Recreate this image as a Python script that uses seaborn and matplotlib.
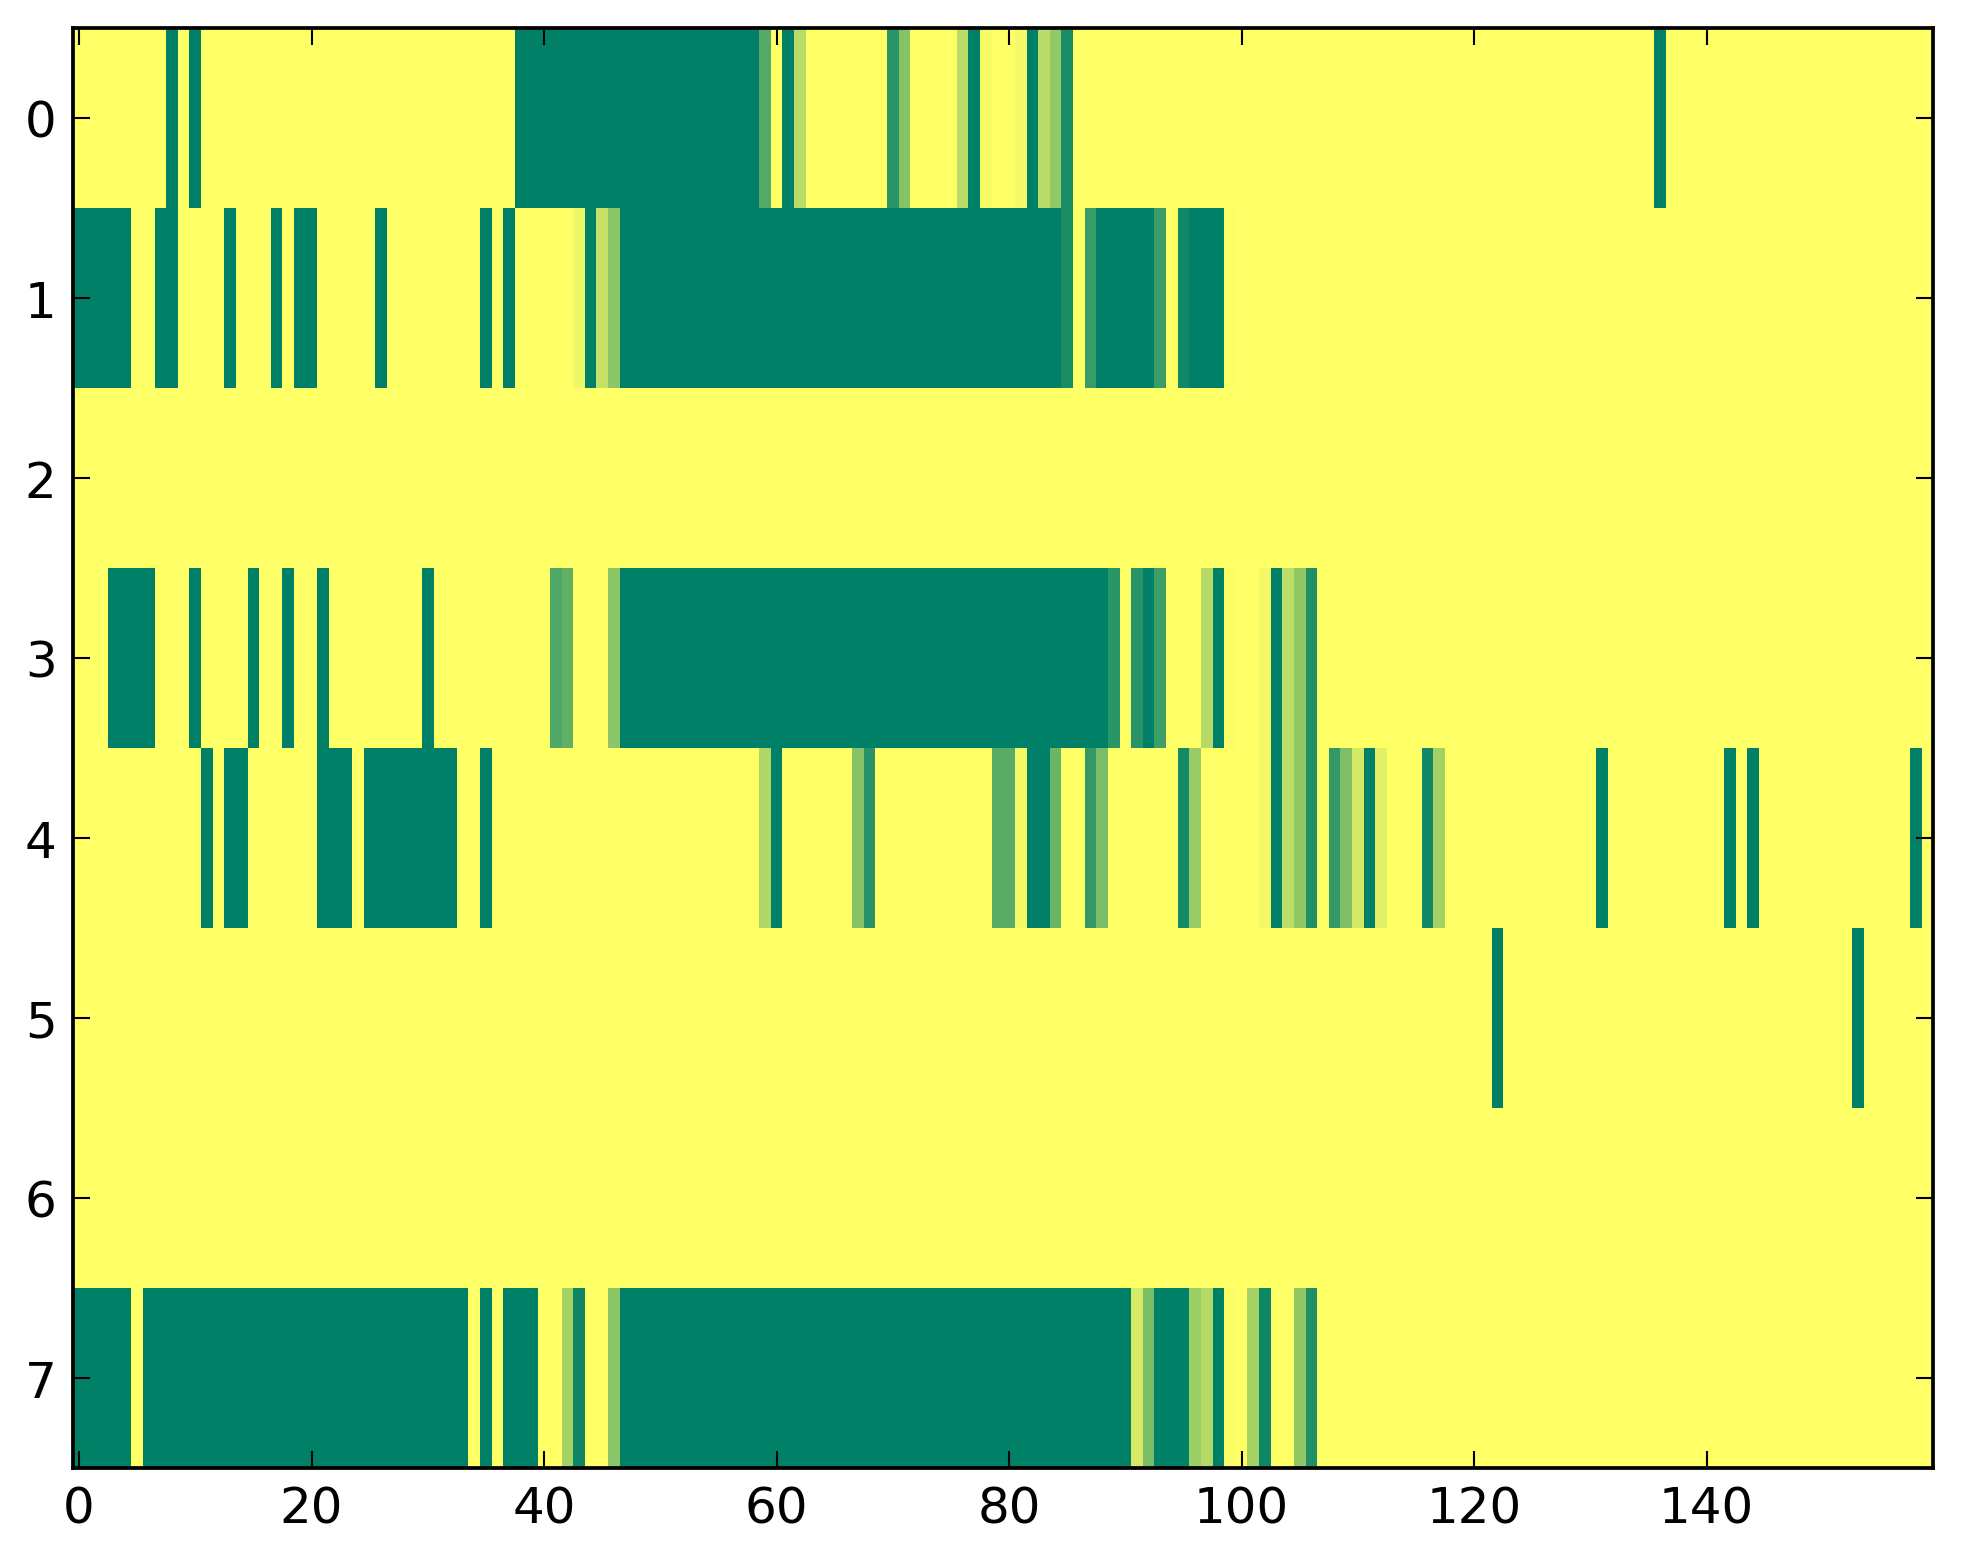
import numpy as np
import pandas as pd
import matplotlib
matplotlib.use("Agg")
import matplotlib.pyplot as plt
import seaborn as sns

# cell values, run-length coded as (value, count)
# 0.0 = dark green, 1.0 = yellow (summer colormap)
G, Y = 0.0, 1.0

row0 = [(Y, 8), (G, 1), (Y, 1), (G, 1), (Y, 27), (G, 21), (0.33, 1), (Y, 1),
        (G, 1), (0.72, 1), (Y, 7), (0.165, 1), (0.525, 1), (Y, 4), (0.72, 1),
        (G, 1), (0.965, 1), (Y, 2), (0.96, 1), (G, 1), (0.72, 1), (0.58, 1),
        (0.1, 1), (Y, 50), (G, 1), (Y, 23)]
row1 = [(G, 5), (Y, 2), (G, 2), (Y, 4), (G, 1), (Y, 3), (G, 1), (Y, 1),
        (G, 2), (Y, 5), (G, 1), (Y, 8), (G, 1), (Y, 1), (G, 1), (Y, 5),
        (0.93, 1), (G, 1), (0.77, 1), (0.55, 1), (G, 38), (0.1, 1), (Y, 1),
        (0.22, 1), (G, 5), (0.23, 1), (Y, 1), (0.07, 1), (G, 3), (0.99, 1),
        (Y, 60)]
row2 = [(Y, 160)]
row3 = [(Y, 3), (G, 4), (Y, 3), (G, 1), (Y, 4), (G, 1), (Y, 2), (G, 1),
        (Y, 2), (G, 1), (Y, 8), (G, 1), (Y, 10), (0.32, 1), (0.38, 1), (Y, 3),
        (0.55, 1), (G, 42), (0.165, 1), (Y, 1), (0.16, 1), (G, 1), (0.24, 1),
        (Y, 3), (0.71, 1), (G, 1), (0.98, 1), (Y, 2), (0.95, 1), (G, 1),
        (0.74, 1), (0.57, 1), (0.12, 1), (Y, 53)]
row4 = [(Y, 11), (G, 1), (Y, 1), (G, 2), (Y, 6), (G, 3), (Y, 1), (G, 8),
        (Y, 2), (G, 1), (Y, 23), (0.68, 1), (G, 1), (Y, 6), (0.53, 1),
        (0.16, 1), (Y, 10), (0.345, 2), (0.955, 1), (G, 2), (0.42, 1), (Y, 2),
        (0.2, 1), (0.48, 1), (Y, 6), (0.075, 1), (0.6, 1), (Y, 5), (0.95, 1),
        (G, 1), (0.74, 1), (0.57, 1), (0.12, 1), (Y, 1), (0.2, 1), (0.49, 1),
        (0.83, 1), (G, 1), (0.88, 1), (Y, 3), (0.07, 1), (0.64, 1), (Y, 13),
        (G, 1), (Y, 10), (G, 1), (Y, 1), (G, 1), (Y, 13), (G, 1), (Y, 1)]
row5 = [(Y, 122), (G, 1), (Y, 30), (G, 1), (Y, 6)]
row6 = [(Y, 160)]
row7 = [(G, 5), (Y, 1), (G, 28), (Y, 1), (G, 1), (Y, 1), (G, 3), (Y, 2),
        (0.65, 1), (0.06, 1), (Y, 2), (0.55, 1), (G, 44), (0.84, 1),
        (0.48, 1), (G, 3), (0.61, 1), (0.7, 1), (G, 1), (0.98, 1), (Y, 1),
        (0.65, 1), (0.055, 1), (Y, 2), (0.57, 1), (0.12, 1), (Y, 53)]

rows = [row0, row1, row2, row3, row4, row5, row6, row7]
xtick_values = [0, 20, 40, 60, 80, 100, 120, 140]


def expand(runs):
    return np.concatenate([np.full(n, v) for v, n in runs])


grid = pd.DataFrame([expand(r) for r in rows])

plt.rcParams['font.family'] = 'DejaVu Sans'
plt.rcParams['font.size'] = 12

fig = plt.figure(figsize=(1963 / 300, 1564 / 300), dpi=300)
ax = fig.add_axes([0.03729, 0.06106, 0.94763, 0.92059])

sns.heatmap(grid, cmap='summer', vmin=0, vmax=1, cbar=False,
            xticklabels=False, yticklabels=False, ax=ax)

ax.set_xticks([v + 0.5 for v in xtick_values])
ax.set_xticklabels([str(v) for v in xtick_values])
ax.set_yticks([i + 0.5 for i in range(len(rows))])
ax.set_yticklabels([str(i) for i in range(len(rows))], rotation=0)
ax.set_xlabel('')
ax.set_ylabel('')

for s in ax.spines.values():
    s.set_visible(True)
    s.set_linewidth(0.9)
    s.set_color('black')

ax.tick_params(direction='in', top=True, right=True, length=4, width=0.5,
               labelsize=12, pad=4, colors='black')

fig.savefig('out.png', dpi=300)
